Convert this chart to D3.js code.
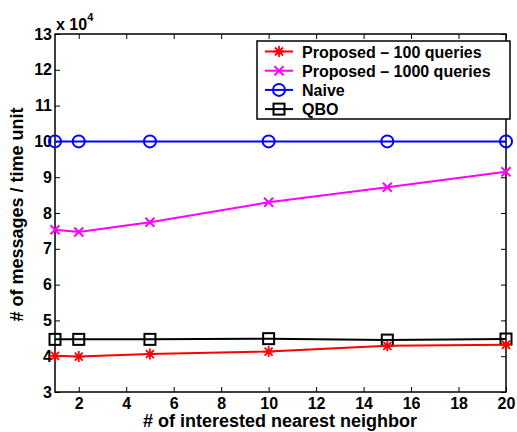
<!DOCTYPE html>
<html><head><meta charset="utf-8">
<script src="https://cdn.jsdelivr.net/npm/d3@7"></script>
<style>body{margin:0;background:#fff}svg{display:block}</style>
</head><body><div id="chart"></div>
<script>
const xValues = [1, 2, 5, 10, 15, 20];
const proposed100 = [40100, 39900, 40600, 41300, 42900, 43200];
const proposed1000 = [75300, 74700, 77400, 83000, 87200, 91500];
const naive = [100000, 100000, 100000, 100000, 100000, 100000];
const qbo = [44700, 44700, 44700, 44900, 44500, 44800];
const seriesNames = ["Proposed \u2013 100 queries", "Proposed \u2013 1000 queries", "Naive", "QBO"];
const xTicks = [2, 4, 6, 8, 10, 12, 14, 16, 18, 20];
const yTicks = [3, 4, 5, 6, 7, 8, 9, 10, 11, 12, 13];

const W = 517, H = 432;
const m = {left: 55, top: 34, right: 506, bottom: 392};
const FF = "'Liberation Sans', Arial, Helvetica, sans-serif";
const svg = d3.select("#chart").append("svg").attr("width", W).attr("height", H)
  .style("font-family", FF).style("font-weight", "bold");

const x = d3.scaleLinear().domain([1, 20]).range([m.left, m.right]);
const y = d3.scaleLinear().domain([3, 13]).range([m.bottom, m.top]);

// plot box
svg.append("rect").attr("x", m.left).attr("y", m.top).attr("width", m.right - m.left).attr("height", m.bottom - m.top)
  .attr("fill", "none").attr("stroke", "#000").attr("stroke-width", 1.5);

const tl = 5;
const fs = 16;
const xb = svg.append("g").attr("transform", `translate(0,${m.bottom})`)
  .call(d3.axisBottom(x).tickValues(xTicks).tickSize(-tl).tickPadding(6).tickFormat(d3.format("d")));
const xt = svg.append("g").attr("transform", `translate(0,${m.top})`)
  .call(d3.axisTop(x).tickValues(xTicks).tickSize(-tl).tickFormat(""));
const yl = svg.append("g").attr("transform", `translate(${m.left},0)`)
  .call(d3.axisLeft(y).tickValues(yTicks).tickSize(-tl).tickPadding(3).tickFormat(d3.format("d")));
const yr = svg.append("g").attr("transform", `translate(${m.right},0)`)
  .call(d3.axisRight(y).tickValues(yTicks).tickSize(-tl).tickFormat(""));
[xb, xt, yl, yr].forEach(g => {
  g.attr("font-family", null).attr("font-size", null);
  g.select(".domain").remove();
  g.selectAll(".tick line").attr("stroke", "#000").attr("stroke-width", 1);
  g.selectAll("text").attr("fill", "#000").style("font-size", fs + "px").style("font-weight", "bold")
    .style("font-family", FF);
});

// exponent label
const ex = svg.append("text").attr("x", m.left + 1).attr("y", 30).style("font-size", "16px").attr("fill", "#000");
ex.append("tspan").text("x 10");
ex.append("tspan").attr("dy", -9).style("font-size", "11px").text("4");

// axis labels
svg.append("text").attr("x", 280).attr("y", 427).attr("text-anchor", "middle")
  .style("font-size", "18px").attr("fill", "#000").text("# of interested nearest neighbor");
svg.append("text").attr("transform", `translate(23,214.5) rotate(-90)`).attr("text-anchor", "middle")
  .style("font-size", "18px").attr("fill", "#000").text("# of messages / time unit");

const series = [
  {name: seriesNames[0], vals: proposed100, color: "#ff0000", marker: "star"},
  {name: seriesNames[1], vals: proposed1000, color: "#ff00ff", marker: "x"},
  {name: seriesNames[2], vals: naive, color: "#0000ff", marker: "circle"},
  {name: seriesNames[3], vals: qbo, color: "#000000", marker: "square"}
];

function drawMarker(g, type, cx, cy, color) {
  if (type === "circle") {
    g.append("circle").attr("cx", cx).attr("cy", cy).attr("r", 6).attr("fill", "none").attr("stroke", color).attr("stroke-width", 2);
  } else if (type === "square") {
    g.append("rect").attr("x", cx - 5.5).attr("y", cy - 5.5).attr("width", 11).attr("height", 11).attr("fill", "none").attr("stroke", color).attr("stroke-width", 2);
  } else if (type === "x") {
    const s = 4.5;
    g.append("path").attr("d", `M${cx - s},${cy - s}L${cx + s},${cy + s}M${cx - s},${cy + s}L${cx + s},${cy - s}`).attr("stroke", color).attr("stroke-width", 2);
  } else if (type === "star") {
    const s = 5.5, d = 4;
    g.append("path").attr("d", `M${cx},${cy - s}L${cx},${cy + s}M${cx - s},${cy}L${cx + s},${cy}M${cx - d},${cy - d}L${cx + d},${cy + d}M${cx - d},${cy + d}L${cx + d},${cy - d}`)
      .attr("stroke", color).attr("stroke-width", 1.8);
  }
}

const line = d3.line().x(d => x(d[0])).y(d => y(d[1] / 10000));
const order = [2, 3, 1, 0];
order.forEach(i => {
  const s = series[i];
  const pts = xValues.map((xv, j) => [xv, s.vals[j]]);
  const g = svg.append("g");
  g.append("path").datum(pts).attr("d", line).attr("fill", "none").attr("stroke", s.color).attr("stroke-width", 2);
  pts.forEach(p => drawMarker(g, s.marker, x(p[0]), y(p[1] / 10000), s.color));
});

// legend
const lg = svg.append("g");
lg.append("rect").attr("x", 257).attr("y", 41).attr("width", 253).attr("height", 78).attr("fill", "#fff").attr("stroke", "#000").attr("stroke-width", 1.5);
series.forEach((s, i) => {
  const cy = 51.5 + i * 19.2;
  lg.append("line").attr("x1", 265).attr("x2", 293).attr("y1", cy).attr("y2", cy).attr("stroke", s.color).attr("stroke-width", 2);
  drawMarker(lg, s.marker, 279, cy, s.color);
  lg.append("text").attr("x", 302).attr("y", cy + 6).style("font-size", "16px").attr("fill", "#000").text(s.name);
});
</script></body></html>
